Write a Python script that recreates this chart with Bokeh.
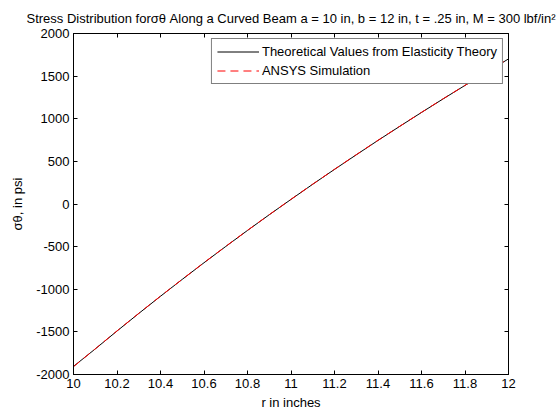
from bokeh.plotting import figure
from bokeh.models import (LinearAxis, FixedTicker, Legend, LegendItem, Range1d, Title)
from bokeh.embed import file_html
from bokeh.resources import INLINE

# ---- data ----
r_in = [10.0, 10.1, 10.2, 10.3, 10.4, 10.5, 10.6, 10.7, 10.8, 10.9, 11.0,
        11.1, 11.2, 11.3, 11.4, 11.5, 11.6, 11.7, 11.8, 11.9, 12.0]
theory_psi = [-1905, -1700, -1490, -1284, -1082, -884, -689, -498, -310, -126, 54,
              232, 406, 577, 746, 911, 1074, 1234, 1391, 1546, 1702]
ansys_psi = [-1908, -1699, -1489, -1283, -1081, -883, -688, -497, -309, -125, 55,
             233, 407, 578, 747, 912, 1075, 1235, 1392, 1547, 1703]

x_ticks = [10.0, 10.2, 10.4, 10.6, 10.8, 11.0, 11.2, 11.4, 11.6, 11.8, 12.0]
x_tick_labels = ["10", "10.2", "10.4", "10.6", "10.8", "11", "11.2", "11.4", "11.6", "11.8", "12"]
y_ticks = [-2000, -1500, -1000, -500, 0, 500, 1000, 1500, 2000]
y_tick_labels = ["-2000", "-1500", "-1000", "-500", "0", "500", "1000", "1500", "2000"]

title_text = "Stress Distribution forσθ Along a Curved Beam a = 10 in, b = 12 in, t = .25 in, M = 300 lbf/in²"
x_label = "r in inches"
y_label = "σθ, in psi"

FONT = "Liberation Sans"
FS = "13px"

p = figure(width=560, height=420, output_backend="svg", toolbar_location=None,
           x_range=Range1d(10, 12), y_range=Range1d(-2000, 2000),
           min_border_left=73, min_border_right=52, min_border_top=33, min_border_bottom=46,
           x_axis_location=None, y_axis_location=None)
p.background_fill_color = "white"
p.border_fill_color = "white"
p.outline_line_color = "black"
p.outline_line_width = 1
p.xgrid.visible = False
p.ygrid.visible = False


def make_axis(ticks, labels, show_labels, label_text=None, label_standoff=4):
    ax = LinearAxis(ticker=FixedTicker(ticks=ticks))
    ax.major_label_overrides = {t: (l if show_labels else "") for t, l in zip(ticks, labels)}
    ax.major_tick_in = 4
    ax.major_tick_out = 0
    ax.minor_tick_in = 0
    ax.minor_tick_out = 0
    ax.axis_line_color = "black"
    ax.major_tick_line_color = "black"
    ax.major_label_text_font = FONT
    ax.major_label_text_font_size = FS if show_labels else "1px"
    ax.major_label_text_color = "black"
    ax.major_label_standoff = 4 if show_labels else 0
    if label_text:
        ax.axis_label = label_text
        ax.axis_label_text_font = FONT
        ax.axis_label_text_font_size = FS
        ax.axis_label_text_font_style = "normal"
        ax.axis_label_text_color = "black"
        ax.axis_label_standoff = label_standoff
    return ax


p.add_layout(make_axis(x_ticks, x_tick_labels, True, x_label, 4), "below")
p.add_layout(make_axis(y_ticks, y_tick_labels, True, y_label, 8), "left")
p.add_layout(make_axis(x_ticks, x_tick_labels, False), "above")
p.add_layout(make_axis(y_ticks, y_tick_labels, False), "right")

p.add_layout(Title(text=title_text, align="center", text_font=FONT, text_font_size=FS,
                   text_font_style="normal", text_color="black", standoff=15), "above")

r1 = p.line(r_in, theory_psi, line_color="black", line_width=1)
r2 = p.line(r_in, ansys_psi, line_color="red", line_width=1, line_dash="8 5")

legend = Legend(items=[LegendItem(label="Theoretical Values from Elasticity Theory", renderers=[r1]),
                       LegendItem(label="ANSYS Simulation", renderers=[r2])],
                location="top_right", margin=5, padding=5, spacing=4,
                glyph_width=42, glyph_height=15, label_height=15, label_standoff=3,
                label_text_font=FONT, label_text_font_size=FS, label_text_color="black",
                border_line_color="black", border_line_width=1,
                background_fill_color="white", background_fill_alpha=1.0)
p.add_layout(legend)

open("out.html", "w").write(file_html(p, INLINE))
